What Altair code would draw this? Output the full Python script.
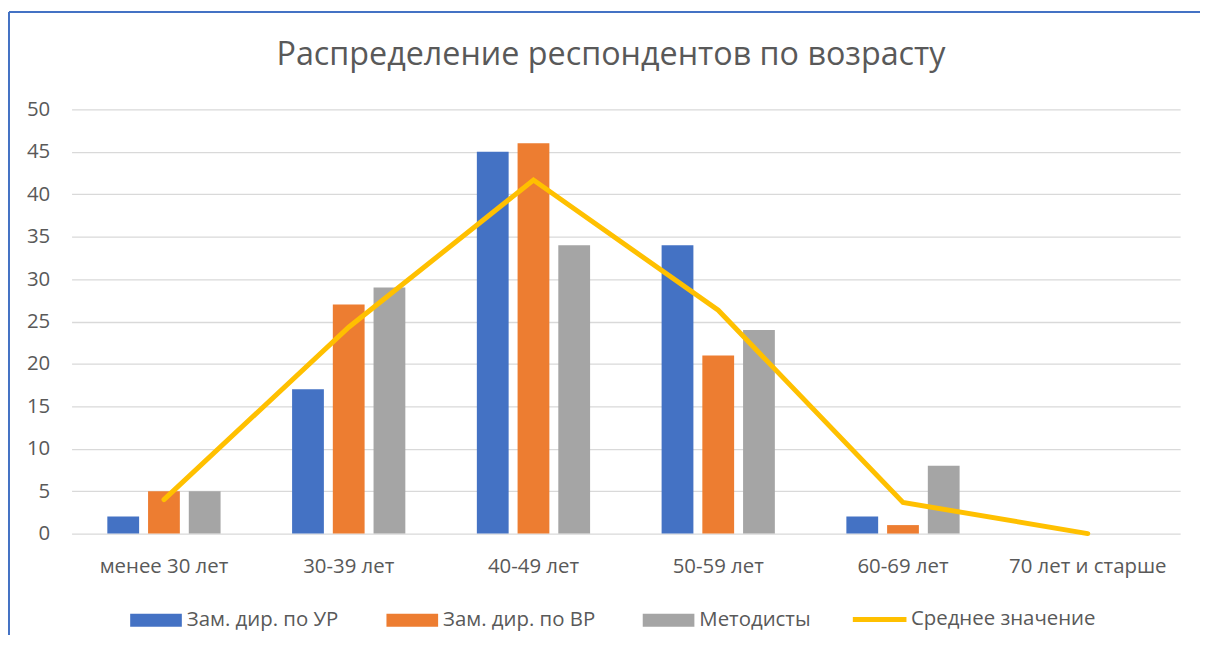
import altair as alt
import pandas as pd

categories = ["менее 30 лет", "30-39 лет", "40-49 лет", "50-59 лет", "60-69 лет", "70 лет и старше"]
series_names = ["Зам. дир. по УР", "Зам. дир. по ВР", "Методисты"]
zam_ur = [2, 17, 45, 34, 2, 0]
zam_vr = [5, 27, 46, 21, 1, 0]
metodisty = [5, 29, 34, 24, 8, 0]
avg_name = "Среднее значение"
avg_values = [4.0, 24.33, 41.67, 26.33, 3.67, 0.0]
y_ticks = [0, 5, 10, 15, 20, 25, 30, 35, 40, 45, 50]

bar_colors = ["#4472C4", "#ED7D31", "#A5A5A5"]
line_color = "#FFC000"
text_color = "#595959"
grid_color = "#D9D9D9"
FONT = "Open Sans"
FS = 20.5

rows = []
for name, vals in zip(series_names, [zam_ur, zam_vr, metodisty]):
    for c, v in zip(categories, vals):
        rows.append({"cat": c, "series": name, "value": v})
bars_df = pd.DataFrame(rows)
line_df = pd.DataFrame({"cat": categories, "value": avg_values, "series2": [avg_name] * len(categories)})

W, H = 1116, 427

x_enc = alt.X("cat:N", sort=categories, title=None,
              scale=alt.Scale(paddingInner=0, paddingOuter=0),
              axis=alt.Axis(labelAngle=0, ticks=False, domain=False, labelFontSize=FS,
                            labelColor=text_color, labelFont=FONT, labelPadding=23, grid=False))
y_enc = alt.Y("value:Q", title=None,
              scale=alt.Scale(domain=[0, 50], nice=False),
              axis=alt.Axis(values=y_ticks, ticks=False, domain=False, labelFontSize=FS,
                            labelColor=text_color, labelFont=FONT, labelPadding=22,
                            gridColor=grid_color, gridWidth=1.3))

bar_symbol = "M-1,-0.25H1V0.25H-1Z"

bars = alt.Chart(bars_df).mark_bar().encode(
    x=x_enc,
    y=y_enc,
    xOffset=alt.XOffset("series:N", sort=series_names,
                        scale=alt.Scale(paddingInner=0.2195, paddingOuter=0.878)),
    color=alt.Color("series:N", sort=series_names,
                    scale=alt.Scale(domain=series_names, range=bar_colors),
                    legend=alt.Legend(title=None, orient="none", legendX=59, legendY=488,
                                      direction="horizontal", columns=3, gridAlign="all",
                                      columnPadding=47, symbolType=bar_symbol, symbolSize=2704,
                                      symbolStrokeWidth=0, labelFontSize=FS, labelColor=text_color,
                                      labelFont=FONT, labelOffset=5, padding=0, labelLimit=300)),
)

line = alt.Chart(line_df).mark_line(strokeWidth=5, strokeJoin="miter", strokeCap="round").encode(
    x=alt.X("cat:N", sort=categories),
    y=alt.Y("value:Q"),
    color=alt.Color("series2:N",
                    scale=alt.Scale(domain=[avg_name], range=[line_color]),
                    legend=alt.Legend(title=None, orient="none", legendX=784, legendY=484,
                                      direction="horizontal", symbolType="stroke", symbolSize=2916,
                                      symbolStrokeWidth=5, labelFontSize=FS, labelColor=text_color,
                                      labelFont=FONT, labelOffset=2, padding=0, labelLimit=300)),
)

border_top = alt.Chart(pd.DataFrame({"a": [0]})).mark_rule(color="#4472C4", strokeWidth=2).encode(
    x=alt.value(-63), x2=alt.value(1136), y=alt.value(-98))
border_left = alt.Chart(pd.DataFrame({"a": [0]})).mark_rule(color="#4472C4", strokeWidth=2).encode(
    x=alt.value(-63), y=alt.value(-98), y2=alt.value(542))

chart = alt.layer(bars, line, border_top, border_left).resolve_scale(
    color="independent"
).properties(
    width=W, height=H,
    title=alt.TitleParams("Распределение респондентов по возрасту", fontSize=32.5, font=FONT,
                          color=text_color, fontWeight="normal", anchor="middle", dx=-15,
                          frame="group", baseline="alphabetic", offset=0, dy=87),
    autosize=alt.AutoSizeParams(type="none"),
    padding={"left": 64, "top": 100, "right": 20, "bottom": 100},
).configure_view(
    stroke="transparent", strokeWidth=0
).configure_axis(domain=False).configure_axisX(grid=False, domain=False).configure_axisY(domain=False)

chart.save("out.html", embed_options={"renderer": "svg", "actions": False})
